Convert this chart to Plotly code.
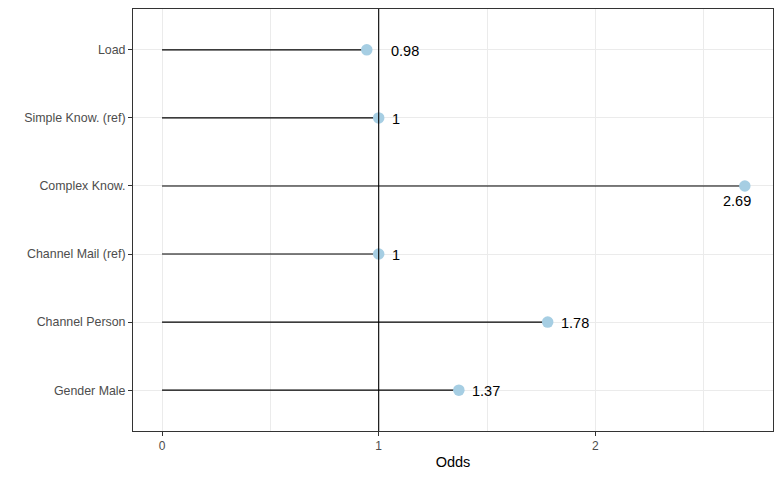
import plotly.graph_objects as go

categories = ["Load", "Simple Know. (ref)", "Complex Know.", "Channel Mail (ref)", "Channel Person", "Gender Male"]
odds = [0.945, 1.0, 2.69, 1.0, 1.78, 1.37]
labels = ["0.98", "1", "2.69", "1", "1.78", "1.37"]
x_ticks = [0, 1, 2]

seg_x, seg_y = [], []
for c, v in zip(categories, odds):
    seg_x += [0, v, None]
    seg_y += [c, c, None]

fig = go.Figure()
fig.add_trace(go.Scatter(x=seg_x, y=seg_y, mode="lines",
                         line=dict(color="black", width=1.1), hoverinfo="skip", showlegend=False))
fig.add_vline(x=1, line=dict(color="black", width=1.1))
fig.add_trace(go.Scatter(x=odds, y=categories, mode="markers",
                         marker=dict(color="#A6CEE3", size=11.5), showlegend=False))

for c, v, t in zip(categories, odds, labels):
    if c == "Complex Know.":
        fig.add_annotation(x=v, y=c, text=t, showarrow=False, xanchor="center", yanchor="middle",
                           xshift=-8, yshift=-15, font=dict(size=14.5, color="black"))
    else:
        shift = 22 if t == "0.98" else 11
        fig.add_annotation(x=v, y=c, text=t, showarrow=False, xanchor="left", yanchor="middle",
                           xshift=shift, yshift=-1, font=dict(size=14.5, color="black"))

fig.update_layout(
    width=766, height=462,
    margin=dict(l=125, r=0, t=0, b=36),
    plot_bgcolor="white", paper_bgcolor="white",
    font=dict(family="Liberation Sans, Arial, sans-serif"),
)
fig.update_xaxes(
    range=[-0.134, 2.82], tickvals=x_ticks, ticktext=[str(t) for t in x_ticks],
    showgrid=True, gridcolor="#EBEBEB", gridwidth=1,
    minor=dict(dtick=0.5, showgrid=True, gridcolor="#EBEBEB", gridwidth=0.6),
    zeroline=False, showline=True, linecolor="#333333", linewidth=1, mirror=True,
    ticks="outside", ticklen=4, tickcolor="#333333",
    tickfont=dict(size=12, color="#4D4D4D"),
    title=dict(text="Odds", font=dict(size=14.5, color="black"), standoff=6),
)
fig.update_yaxes(
    type="category", categoryorder="array", categoryarray=categories[::-1],
    range=[-0.6, 5.6],
    showgrid=True, gridcolor="#EBEBEB", gridwidth=1,
    zeroline=False, showline=True, linecolor="#333333", linewidth=1, mirror=True,
    ticks="outside", ticklen=4, tickcolor="#333333",
    tickfont=dict(size=12.4, color="#4D4D4D"),
)

fig.write_html("out.html")
